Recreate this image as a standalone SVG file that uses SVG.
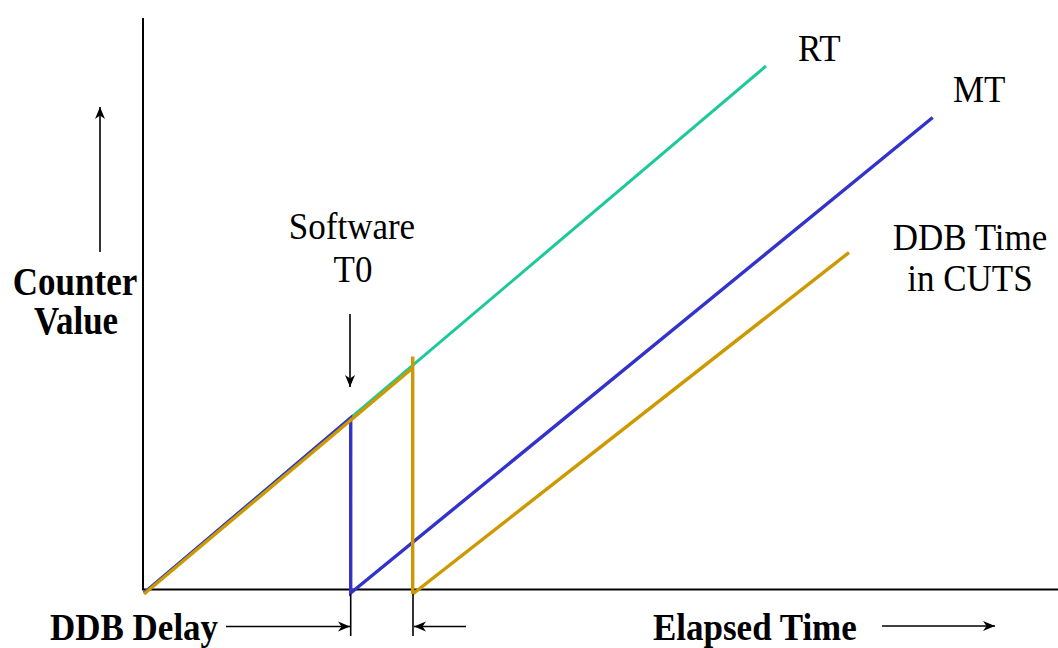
<svg xmlns="http://www.w3.org/2000/svg" width="1058" height="648" viewBox="0 0 1058 648">
  <style>
    .axis { stroke: #000; stroke-width: 2; fill: none; }
    .tick { stroke: #000; stroke-width: 1.6; fill: none; }
    .arrow { stroke: #000; stroke-width: 1.6; fill: none; marker-end: url(#head); }
    .rt { stroke: #1DC99A; stroke-width: 3; fill: none; }
    .mt { stroke: #3333CC; stroke-width: 3.4; fill: none; stroke-linejoin: miter; }
    .ddb { stroke: #CC9900; stroke-width: 3.4; fill: none; }
    .lbl { font-family: "Liberation Serif", "Times New Roman", serif; font-size: 35px; fill: #000; }
    .bold { font-weight: bold; }
  </style>
  <defs>
    <marker id="head" markerWidth="14" markerHeight="12" refX="12" refY="6" orient="auto" markerUnits="userSpaceOnUse">
      <path d="M0,1 L12,6 L0,11 L3.5,6 Z" fill="#000"/>
    </marker>
  </defs>
  <rect width="1058" height="648" fill="#fff"/>

  <!-- axes -->
  <g id="axes">
    <line class="axis" x1="143" y1="18" x2="143" y2="590"/>
    <line class="axis" x1="142" y1="589.5" x2="1058" y2="589.5"/>
  </g>

  <!-- counter curves -->
  <g id="connectors">
    <line class="rt" x1="144" y1="593" x2="766" y2="66"/>
    <polyline class="mt" points="144,593 350.7,418 350.7,593 932.7,117.5"/>
    <polyline class="ddb" points="144,594 412.7,368"/>
    <line class="ddb" x1="412.7" y1="356.5" x2="412.7" y2="594"/>
    <line class="ddb" x1="412.7" y1="594" x2="849" y2="252.5"/>

    <!-- delay markers -->
    <line class="tick" x1="350.7" y1="594" x2="350.7" y2="636"/>
    <line class="tick" x1="413" y1="594" x2="413" y2="636"/>
    <line class="arrow" x1="226" y1="626.5" x2="350" y2="626.5"/>
    <line class="arrow" x1="466" y1="626.5" x2="414" y2="626.5"/>
    <line class="arrow" x1="882" y1="626" x2="995" y2="626"/>
    <line class="arrow" x1="100" y1="252" x2="100" y2="107"/>
    <line class="arrow" x1="350" y1="314" x2="350" y2="387"/>
  </g>

  <!-- labels -->
  <g id="label-rt"><text class="lbl" transform="translate(798 61) scale(1 1.06)">RT</text></g>
  <g id="label-mt"><text class="lbl" transform="translate(953 102) scale(1 1.06)">MT</text></g>
  <g id="label-ddb-time">
    <text class="lbl" text-anchor="middle" transform="translate(970 250) scale(1 1.06)">DDB Time</text>
    <text class="lbl" text-anchor="middle" transform="translate(970 291) scale(1 1.06)">in CUTS</text>
  </g>
  <g id="label-software-t0">
    <text class="lbl" text-anchor="middle" transform="translate(352 239) scale(1 1.06)">Software</text>
    <text class="lbl" text-anchor="middle" transform="translate(353 282) scale(1 1.06)">T0</text>
  </g>
  <g id="label-counter-value">
    <text class="lbl bold" text-anchor="middle" transform="translate(75 295) scale(1 1.12)">Counter</text>
    <text class="lbl bold" text-anchor="middle" transform="translate(76 334) scale(1 1.12)">Value</text>
  </g>
  <g id="label-ddb-delay"><text class="lbl bold" transform="translate(50 639.5) scale(1 1.08)">DDB Delay</text></g>
  <g id="label-elapsed"><text class="lbl bold" transform="translate(653 639.5) scale(1 1.08)">Elapsed Time</text></g>
</svg>
